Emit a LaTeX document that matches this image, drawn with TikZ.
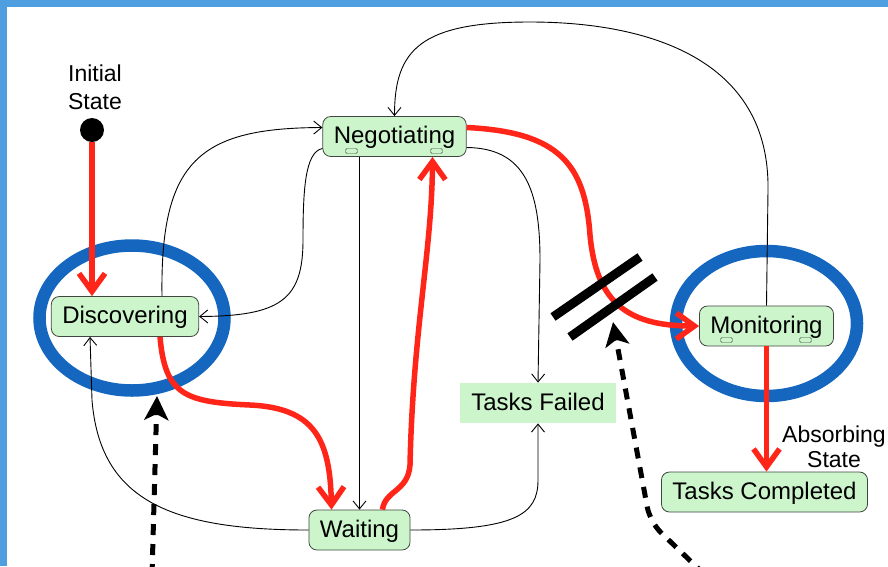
\documentclass[tikz,border=0pt]{standalone}
\usepackage{fontspec}
\setmainfont{Liberation Sans}
\usetikzlibrary{arrows.meta}
\definecolor{lgreen}{rgb}{0.8, 0.96, 0.8}
\definecolor{sedge}{rgb}{0.25, 0.28, 0.25}
\definecolor{dblue}{rgb}{0.08, 0.4, 0.75}
\definecolor{bred}{rgb}{1, 0.15, 0.1}
\definecolor{fblue}{rgb}{0.31, 0.62, 0.88}
\tikzset{state/.style = {draw=sedge, line width=0.8pt, fill=lgreen, rounded corners=8pt, inner xsep=11pt,
                         inner ysep=0pt, minimum height=40pt, text height=17pt, text depth=3pt,
                         font=\fontsize{24}{28}\selectfont}}
\tikzset{port/.style = {draw=sedge, fill=lgreen, rounded corners=1.5pt, minimum width=12pt,
                        minimum height=5pt, inner sep=0pt}}
\tikzset{dot/.style = {fill=black, circle, minimum size=24pt, inner sep=0pt}}
\tikzset{note/.style = {align=center, inner sep=0pt}}
\tikzset{ring/.style = {draw=dblue, line width=12.5pt}}
\tikzset{hot/.style = {draw=bred, line width=5.5pt, -{Straight Barb[length=18pt, width=26pt]}}}
\tikzset{trans/.style = {draw=black, line width=0.9pt, -{Straight Barb[length=8pt, width=13pt]}}}
\tikzset{pointer/.style = {draw=black, line width=5pt, dash pattern=on 11pt off 9pt,
                           -{Stealth[length=24pt, width=24pt, inset=6pt]}}}
\tikzset{bar/.style = {draw=black, line width=9pt}}

\begin{document}
\begin{tikzpicture}[x=1pt, y=-1pt]
    \useasboundingbox (0, 0) rectangle (888, 566);
    \fill [fblue] (0, 0) rectangle (888, 7);
    \fill [fblue] (0, 0) rectangle (7, 566);

    \draw [ring] (132, 318) ellipse [x radius=92.5pt, y radius=72.5pt];
    \draw [ring] (766.5, 323.5) ellipse [x radius=90.5pt, y radius=72.5pt];

    \node [dot] (init) at (92, 130) {};
    \node [note, font=\fontsize{23}{28}\selectfont] (initlabel) at (95, 87) {Initial\\State};

    \node [state] (neg) at (394.5, 136.5) {Negotiating};
    \node [state] (disc) at (125, 316.5) {Discovering};
    \node [state] (mon) at (766.5, 326) {Monitoring};
    \node [state, draw=none, sharp corners] (tf) at (538, 403) {Tasks Failed};
    \node [state] (tc) at (764.5, 492) {Tasks Completed};
    \node [state] (wait) at (359.5, 530) {Waiting};

    \node [port] (negportl) at ([xshift=-43pt, yshift=-14.5pt]neg.center) {};
    \node [port] (negportr) at ([xshift=42pt, yshift=-14.5pt]neg.center) {};
    \node [port] (monportl) at ([xshift=-40pt, yshift=-14pt]mon.center) {};
    \node [port] (monportr) at ([xshift=39pt, yshift=-14pt]mon.center) {};

    \node [note, font=\fontsize{23}{25}\selectfont] (absorb) at (834, 447) {Absorbing\\State};

    % thin transitions
    \draw [trans] (mon.north) -- (768, 190) .. controls (770, 60) and (650, 22) .. (530, 22)
                  .. controls (420, 22) and (394.5, 50) .. (neg.north);
    \draw [trans] ([xshift=37pt]disc.north) .. controls (160, 160) and (200, 128) .. ([yshift=9pt]neg.west);
    \draw [trans] ([yshift=-12pt]neg.west) .. controls (305, 152) and (303, 190) .. (303, 240)
                  .. controls (303, 300) and (280, 316) .. (disc.east);
    \draw [trans] (neg.south -| wait.north) -- (wait.north);
    \draw [trans] ([yshift=-11pt]neg.east) .. controls (525, 148) and (540, 190) .. (540, 260) -- (tf.north);
    \draw [trans] (wait.east) .. controls (515, 530) and (538, 515) .. (538, 480) -- (tf.south);
    \draw [trans] (wait.west) .. controls (170, 530) and (100, 500) .. (92, 400) -- ([xshift=-35pt]disc.south);

    % main path
    \draw [hot] (init.south) -- (init |- disc.north);
    \draw [hot] ([xshift=35pt]disc.south) .. controls (165, 395) and (185, 402) .. (250, 405)
                .. controls (315, 408) and (330, 440) .. ([xshift=-28pt]wait.north);
    \draw [hot] ([xshift=23pt]wait.north) .. controls (385, 490) and (408, 492) .. (410, 465)
                .. controls (413, 330) and (432, 250) .. ([xshift=38pt]neg.south);
    \draw [hot] ([yshift=9pt]neg.east) .. controls (560, 132) and (585, 165) .. (590, 235)
                .. controls (596, 300) and (625, 326) .. (mon.west);
    \draw [hot] (mon.south) -- (mon.south |- tc.north);

    \draw [bar] (553, 317) -- (640, 257);
    \draw [bar] (570, 337) -- (655, 277);

    \coordinate (tailA) at (152, 575);
    \coordinate (tipA) at (157, 396);
    \draw [pointer] (tailA) -- (tipA);

    \coordinate (tailB) at (705, 575);
    \coordinate (bendB) at (650, 522);
    \coordinate (tipB) at (613, 322);
    \draw [pointer, rounded corners=15pt] (tailB) -- (bendB) -- (tipB);
  \end{tikzpicture}
\end{document}
